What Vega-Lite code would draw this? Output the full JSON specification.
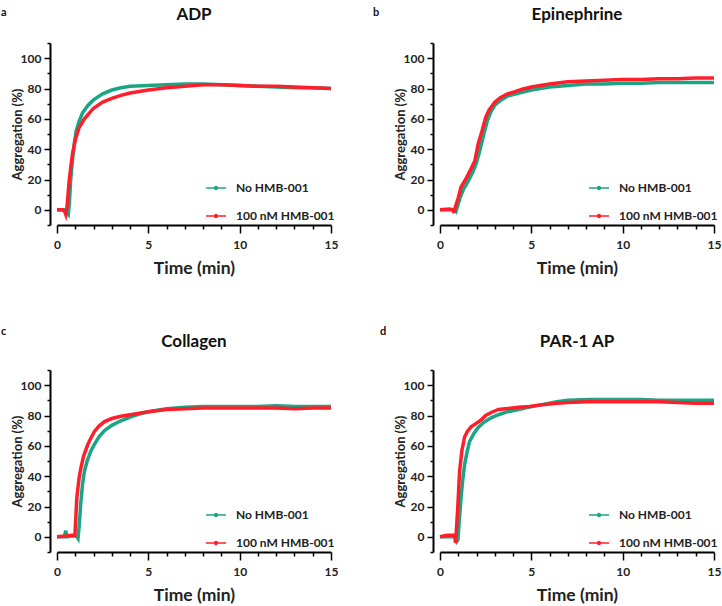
{
"$schema": "https://vega.github.io/schema/vega-lite/v6.json",
"padding": {"left": 1, "top": 6, "right": 0, "bottom": 0},
"background": "white",
"config": {
 "view": {"stroke": null},
 "font": "Lato",
 "axis": {"domainColor": "#000", "domainWidth": 2, "tickColor": "#000", "tickWidth": 1.5, "labelFont": "Lato", "labelFontSize": 12, "labelFontWeight": "bold", "labelColor": "#222", "titleFont": "Lato", "titleFontWeight": "bold", "titleColor": "#222", "grid": false, "labelOverlap": false, "labelFlush": false},
 "axisX": {"titleFontSize": 17.5},
 "axisY": {"titleFontSize": 13},
 "legend": {"labelFont": "Lato", "labelFontSize": 12, "labelFontWeight": "bold", "labelColor": "#222"},
 "header": {"labelFont": "Lato", "labelFontSize": 17, "labelFontWeight": "bold", "labelColor": "#111"},
 "title": {"font": "Lato", "fontSize": 11, "fontWeight": "bold", "anchor": "start", "frame": "bounds", "color": "#111", "offset": -4, "dx": -10, "dy": 8}
},
"data": {"values": [
{"agonist":"ADP","s":"No HMB-001","t":0,"v":0},{"agonist":"ADP","s":"No HMB-001","t":0.3,"v":0},{"agonist":"ADP","s":"No HMB-001","t":0.5,"v":0},{"agonist":"ADP","s":"No HMB-001","t":0.55,"v":-2},{"agonist":"ADP","s":"No HMB-001","t":0.62,"v":-3},{"agonist":"ADP","s":"No HMB-001","t":0.68,"v":5},{"agonist":"ADP","s":"No HMB-001","t":0.75,"v":20},{"agonist":"ADP","s":"No HMB-001","t":0.85,"v":33},{"agonist":"ADP","s":"No HMB-001","t":0.95,"v":44},{"agonist":"ADP","s":"No HMB-001","t":1.05,"v":52},{"agonist":"ADP","s":"No HMB-001","t":1.2,"v":58},{"agonist":"ADP","s":"No HMB-001","t":1.4,"v":64},{"agonist":"ADP","s":"No HMB-001","t":1.7,"v":69},{"agonist":"ADP","s":"No HMB-001","t":2.0,"v":72.5},{"agonist":"ADP","s":"No HMB-001","t":2.5,"v":76.5},{"agonist":"ADP","s":"No HMB-001","t":3.0,"v":79},{"agonist":"ADP","s":"No HMB-001","t":3.5,"v":80.5},{"agonist":"ADP","s":"No HMB-001","t":4.0,"v":81.5},{"agonist":"ADP","s":"No HMB-001","t":5,"v":82},{"agonist":"ADP","s":"No HMB-001","t":6,"v":82.5},{"agonist":"ADP","s":"No HMB-001","t":7,"v":83},{"agonist":"ADP","s":"No HMB-001","t":8,"v":83},{"agonist":"ADP","s":"No HMB-001","t":9,"v":82.5},{"agonist":"ADP","s":"No HMB-001","t":10,"v":82},{"agonist":"ADP","s":"No HMB-001","t":11,"v":81.5},{"agonist":"ADP","s":"No HMB-001","t":12,"v":81},{"agonist":"ADP","s":"No HMB-001","t":13,"v":80.5},{"agonist":"ADP","s":"No HMB-001","t":14,"v":80.5},{"agonist":"ADP","s":"No HMB-001","t":15,"v":80},
{"agonist":"ADP","s":"100 nM HMB-001","t":0,"v":0},{"agonist":"ADP","s":"100 nM HMB-001","t":0.3,"v":0},{"agonist":"ADP","s":"100 nM HMB-001","t":0.42,"v":-1},{"agonist":"ADP","s":"100 nM HMB-001","t":0.48,"v":-3},{"agonist":"ADP","s":"100 nM HMB-001","t":0.55,"v":2},{"agonist":"ADP","s":"100 nM HMB-001","t":0.65,"v":17},{"agonist":"ADP","s":"100 nM HMB-001","t":0.75,"v":28},{"agonist":"ADP","s":"100 nM HMB-001","t":0.85,"v":37},{"agonist":"ADP","s":"100 nM HMB-001","t":1.0,"v":46},{"agonist":"ADP","s":"100 nM HMB-001","t":1.2,"v":54},{"agonist":"ADP","s":"100 nM HMB-001","t":1.5,"v":60},{"agonist":"ADP","s":"100 nM HMB-001","t":2.0,"v":67},{"agonist":"ADP","s":"100 nM HMB-001","t":2.5,"v":71},{"agonist":"ADP","s":"100 nM HMB-001","t":3.0,"v":73.5},{"agonist":"ADP","s":"100 nM HMB-001","t":3.5,"v":75.5},{"agonist":"ADP","s":"100 nM HMB-001","t":4.0,"v":77},{"agonist":"ADP","s":"100 nM HMB-001","t":5,"v":79},{"agonist":"ADP","s":"100 nM HMB-001","t":6,"v":80.5},{"agonist":"ADP","s":"100 nM HMB-001","t":7,"v":81.5},{"agonist":"ADP","s":"100 nM HMB-001","t":8,"v":82.5},{"agonist":"ADP","s":"100 nM HMB-001","t":9,"v":82.5},{"agonist":"ADP","s":"100 nM HMB-001","t":10,"v":82},{"agonist":"ADP","s":"100 nM HMB-001","t":11,"v":81.5},{"agonist":"ADP","s":"100 nM HMB-001","t":12,"v":81.5},{"agonist":"ADP","s":"100 nM HMB-001","t":13,"v":81},{"agonist":"ADP","s":"100 nM HMB-001","t":14,"v":80.5},{"agonist":"ADP","s":"100 nM HMB-001","t":15,"v":80},
{"agonist":"Epinephrine","s":"No HMB-001","t":0,"v":0},{"agonist":"Epinephrine","s":"No HMB-001","t":0.5,"v":0},{"agonist":"Epinephrine","s":"No HMB-001","t":0.8,"v":0},{"agonist":"Epinephrine","s":"No HMB-001","t":0.88,"v":-1},{"agonist":"Epinephrine","s":"No HMB-001","t":0.95,"v":2},{"agonist":"Epinephrine","s":"No HMB-001","t":1.1,"v":8},{"agonist":"Epinephrine","s":"No HMB-001","t":1.3,"v":14},{"agonist":"Epinephrine","s":"No HMB-001","t":1.5,"v":18},{"agonist":"Epinephrine","s":"No HMB-001","t":1.8,"v":25},{"agonist":"Epinephrine","s":"No HMB-001","t":2.0,"v":31},{"agonist":"Epinephrine","s":"No HMB-001","t":2.2,"v":40},{"agonist":"Epinephrine","s":"No HMB-001","t":2.4,"v":50},{"agonist":"Epinephrine","s":"No HMB-001","t":2.6,"v":59},{"agonist":"Epinephrine","s":"No HMB-001","t":2.8,"v":65},{"agonist":"Epinephrine","s":"No HMB-001","t":3.0,"v":69},{"agonist":"Epinephrine","s":"No HMB-001","t":3.3,"v":72},{"agonist":"Epinephrine","s":"No HMB-001","t":3.7,"v":75},{"agonist":"Epinephrine","s":"No HMB-001","t":4.0,"v":76},{"agonist":"Epinephrine","s":"No HMB-001","t":4.5,"v":77.5},{"agonist":"Epinephrine","s":"No HMB-001","t":5,"v":79},{"agonist":"Epinephrine","s":"No HMB-001","t":6,"v":81},{"agonist":"Epinephrine","s":"No HMB-001","t":7,"v":82},{"agonist":"Epinephrine","s":"No HMB-001","t":8,"v":83},{"agonist":"Epinephrine","s":"No HMB-001","t":9,"v":83},{"agonist":"Epinephrine","s":"No HMB-001","t":10,"v":83.5},{"agonist":"Epinephrine","s":"No HMB-001","t":11,"v":83.5},{"agonist":"Epinephrine","s":"No HMB-001","t":12,"v":84},{"agonist":"Epinephrine","s":"No HMB-001","t":13,"v":84},{"agonist":"Epinephrine","s":"No HMB-001","t":14,"v":84},{"agonist":"Epinephrine","s":"No HMB-001","t":15,"v":84},
{"agonist":"Epinephrine","s":"100 nM HMB-001","t":0,"v":0},{"agonist":"Epinephrine","s":"100 nM HMB-001","t":0.5,"v":0.5},{"agonist":"Epinephrine","s":"100 nM HMB-001","t":0.72,"v":0},{"agonist":"Epinephrine","s":"100 nM HMB-001","t":0.76,"v":-2},{"agonist":"Epinephrine","s":"100 nM HMB-001","t":0.82,"v":1},{"agonist":"Epinephrine","s":"100 nM HMB-001","t":1.0,"v":8},{"agonist":"Epinephrine","s":"100 nM HMB-001","t":1.15,"v":15},{"agonist":"Epinephrine","s":"100 nM HMB-001","t":1.4,"v":20},{"agonist":"Epinephrine","s":"100 nM HMB-001","t":1.7,"v":27},{"agonist":"Epinephrine","s":"100 nM HMB-001","t":1.9,"v":32},{"agonist":"Epinephrine","s":"100 nM HMB-001","t":2.1,"v":44},{"agonist":"Epinephrine","s":"100 nM HMB-001","t":2.3,"v":52},{"agonist":"Epinephrine","s":"100 nM HMB-001","t":2.5,"v":61},{"agonist":"Epinephrine","s":"100 nM HMB-001","t":2.7,"v":66},{"agonist":"Epinephrine","s":"100 nM HMB-001","t":3.0,"v":71},{"agonist":"Epinephrine","s":"100 nM HMB-001","t":3.3,"v":74},{"agonist":"Epinephrine","s":"100 nM HMB-001","t":3.7,"v":76.5},{"agonist":"Epinephrine","s":"100 nM HMB-001","t":4.0,"v":77.5},{"agonist":"Epinephrine","s":"100 nM HMB-001","t":4.5,"v":79.5},{"agonist":"Epinephrine","s":"100 nM HMB-001","t":5,"v":81},{"agonist":"Epinephrine","s":"100 nM HMB-001","t":6,"v":83},{"agonist":"Epinephrine","s":"100 nM HMB-001","t":7,"v":84.5},{"agonist":"Epinephrine","s":"100 nM HMB-001","t":8,"v":85},{"agonist":"Epinephrine","s":"100 nM HMB-001","t":9,"v":85.5},{"agonist":"Epinephrine","s":"100 nM HMB-001","t":10,"v":86},{"agonist":"Epinephrine","s":"100 nM HMB-001","t":11,"v":86},{"agonist":"Epinephrine","s":"100 nM HMB-001","t":12,"v":86.5},{"agonist":"Epinephrine","s":"100 nM HMB-001","t":13,"v":86.5},{"agonist":"Epinephrine","s":"100 nM HMB-001","t":14,"v":87},{"agonist":"Epinephrine","s":"100 nM HMB-001","t":15,"v":87},
{"agonist":"Collagen","s":"No HMB-001","t":0,"v":0},{"agonist":"Collagen","s":"No HMB-001","t":0.4,"v":0},{"agonist":"Collagen","s":"No HMB-001","t":0.48,"v":4},{"agonist":"Collagen","s":"No HMB-001","t":0.55,"v":0},{"agonist":"Collagen","s":"No HMB-001","t":0.8,"v":0.5},{"agonist":"Collagen","s":"No HMB-001","t":1.0,"v":0.5},{"agonist":"Collagen","s":"No HMB-001","t":1.1,"v":0},{"agonist":"Collagen","s":"No HMB-001","t":1.15,"v":-1},{"agonist":"Collagen","s":"No HMB-001","t":1.22,"v":8},{"agonist":"Collagen","s":"No HMB-001","t":1.3,"v":22},{"agonist":"Collagen","s":"No HMB-001","t":1.4,"v":35},{"agonist":"Collagen","s":"No HMB-001","t":1.5,"v":43},{"agonist":"Collagen","s":"No HMB-001","t":1.65,"v":50},{"agonist":"Collagen","s":"No HMB-001","t":1.85,"v":56.5},{"agonist":"Collagen","s":"No HMB-001","t":2.05,"v":61},{"agonist":"Collagen","s":"No HMB-001","t":2.3,"v":66},{"agonist":"Collagen","s":"No HMB-001","t":2.6,"v":70},{"agonist":"Collagen","s":"No HMB-001","t":3.0,"v":73.5},{"agonist":"Collagen","s":"No HMB-001","t":3.5,"v":76.5},{"agonist":"Collagen","s":"No HMB-001","t":4.0,"v":79},{"agonist":"Collagen","s":"No HMB-001","t":4.5,"v":81},{"agonist":"Collagen","s":"No HMB-001","t":5,"v":82.5},{"agonist":"Collagen","s":"No HMB-001","t":6,"v":84.5},{"agonist":"Collagen","s":"No HMB-001","t":7,"v":85.5},{"agonist":"Collagen","s":"No HMB-001","t":8,"v":86},{"agonist":"Collagen","s":"No HMB-001","t":9,"v":86},{"agonist":"Collagen","s":"No HMB-001","t":10,"v":86},{"agonist":"Collagen","s":"No HMB-001","t":11,"v":86},{"agonist":"Collagen","s":"No HMB-001","t":12,"v":86.5},{"agonist":"Collagen","s":"No HMB-001","t":13,"v":86},{"agonist":"Collagen","s":"No HMB-001","t":14,"v":86},{"agonist":"Collagen","s":"No HMB-001","t":15,"v":86},
{"agonist":"Collagen","s":"100 nM HMB-001","t":0,"v":0},{"agonist":"Collagen","s":"100 nM HMB-001","t":0.5,"v":0.5},{"agonist":"Collagen","s":"100 nM HMB-001","t":0.8,"v":1},{"agonist":"Collagen","s":"100 nM HMB-001","t":0.98,"v":1},{"agonist":"Collagen","s":"100 nM HMB-001","t":1.02,"v":10},{"agonist":"Collagen","s":"100 nM HMB-001","t":1.08,"v":25},{"agonist":"Collagen","s":"100 nM HMB-001","t":1.2,"v":38},{"agonist":"Collagen","s":"100 nM HMB-001","t":1.3,"v":45},{"agonist":"Collagen","s":"100 nM HMB-001","t":1.45,"v":53},{"agonist":"Collagen","s":"100 nM HMB-001","t":1.67,"v":60.5},{"agonist":"Collagen","s":"100 nM HMB-001","t":1.85,"v":65},{"agonist":"Collagen","s":"100 nM HMB-001","t":2.05,"v":69.5},{"agonist":"Collagen","s":"100 nM HMB-001","t":2.3,"v":73},{"agonist":"Collagen","s":"100 nM HMB-001","t":2.6,"v":76},{"agonist":"Collagen","s":"100 nM HMB-001","t":3.0,"v":78},{"agonist":"Collagen","s":"100 nM HMB-001","t":3.5,"v":79.5},{"agonist":"Collagen","s":"100 nM HMB-001","t":4.0,"v":80.5},{"agonist":"Collagen","s":"100 nM HMB-001","t":5,"v":82.5},{"agonist":"Collagen","s":"100 nM HMB-001","t":6,"v":84},{"agonist":"Collagen","s":"100 nM HMB-001","t":7,"v":84.5},{"agonist":"Collagen","s":"100 nM HMB-001","t":8,"v":85},{"agonist":"Collagen","s":"100 nM HMB-001","t":9,"v":85},{"agonist":"Collagen","s":"100 nM HMB-001","t":10,"v":85},{"agonist":"Collagen","s":"100 nM HMB-001","t":11,"v":85},{"agonist":"Collagen","s":"100 nM HMB-001","t":12,"v":85},{"agonist":"Collagen","s":"100 nM HMB-001","t":13,"v":84.5},{"agonist":"Collagen","s":"100 nM HMB-001","t":14,"v":85},{"agonist":"Collagen","s":"100 nM HMB-001","t":15,"v":85},
{"agonist":"PAR-1 AP","s":"No HMB-001","t":0,"v":0},{"agonist":"PAR-1 AP","s":"No HMB-001","t":0.5,"v":0},{"agonist":"PAR-1 AP","s":"No HMB-001","t":0.85,"v":0},{"agonist":"PAR-1 AP","s":"No HMB-001","t":0.92,"v":-3},{"agonist":"PAR-1 AP","s":"No HMB-001","t":0.98,"v":-2},{"agonist":"PAR-1 AP","s":"No HMB-001","t":1.05,"v":10},{"agonist":"PAR-1 AP","s":"No HMB-001","t":1.16,"v":27},{"agonist":"PAR-1 AP","s":"No HMB-001","t":1.25,"v":38},{"agonist":"PAR-1 AP","s":"No HMB-001","t":1.35,"v":48},{"agonist":"PAR-1 AP","s":"No HMB-001","t":1.5,"v":57},{"agonist":"PAR-1 AP","s":"No HMB-001","t":1.62,"v":63},{"agonist":"PAR-1 AP","s":"No HMB-001","t":1.85,"v":68},{"agonist":"PAR-1 AP","s":"No HMB-001","t":2.08,"v":72},{"agonist":"PAR-1 AP","s":"No HMB-001","t":2.4,"v":75.5},{"agonist":"PAR-1 AP","s":"No HMB-001","t":2.8,"v":78.5},{"agonist":"PAR-1 AP","s":"No HMB-001","t":3.2,"v":80.5},{"agonist":"PAR-1 AP","s":"No HMB-001","t":3.7,"v":82.5},{"agonist":"PAR-1 AP","s":"No HMB-001","t":4.3,"v":84},{"agonist":"PAR-1 AP","s":"No HMB-001","t":4.9,"v":85.5},{"agonist":"PAR-1 AP","s":"No HMB-001","t":5.5,"v":87},{"agonist":"PAR-1 AP","s":"No HMB-001","t":6.4,"v":89},{"agonist":"PAR-1 AP","s":"No HMB-001","t":7,"v":90},{"agonist":"PAR-1 AP","s":"No HMB-001","t":8.2,"v":90.5},{"agonist":"PAR-1 AP","s":"No HMB-001","t":9,"v":90.5},{"agonist":"PAR-1 AP","s":"No HMB-001","t":10,"v":90.5},{"agonist":"PAR-1 AP","s":"No HMB-001","t":11,"v":90.5},{"agonist":"PAR-1 AP","s":"No HMB-001","t":12,"v":90},{"agonist":"PAR-1 AP","s":"No HMB-001","t":13,"v":90},{"agonist":"PAR-1 AP","s":"No HMB-001","t":14,"v":90},{"agonist":"PAR-1 AP","s":"No HMB-001","t":15,"v":90},
{"agonist":"PAR-1 AP","s":"100 nM HMB-001","t":0,"v":0},{"agonist":"PAR-1 AP","s":"100 nM HMB-001","t":0.4,"v":1},{"agonist":"PAR-1 AP","s":"100 nM HMB-001","t":0.8,"v":1},{"agonist":"PAR-1 AP","s":"100 nM HMB-001","t":0.85,"v":-4},{"agonist":"PAR-1 AP","s":"100 nM HMB-001","t":0.9,"v":5},{"agonist":"PAR-1 AP","s":"100 nM HMB-001","t":0.98,"v":21},{"agonist":"PAR-1 AP","s":"100 nM HMB-001","t":1.07,"v":43},{"agonist":"PAR-1 AP","s":"100 nM HMB-001","t":1.2,"v":57},{"agonist":"PAR-1 AP","s":"100 nM HMB-001","t":1.35,"v":66},{"agonist":"PAR-1 AP","s":"100 nM HMB-001","t":1.5,"v":69.5},{"agonist":"PAR-1 AP","s":"100 nM HMB-001","t":1.7,"v":72.5},{"agonist":"PAR-1 AP","s":"100 nM HMB-001","t":2.0,"v":75},{"agonist":"PAR-1 AP","s":"100 nM HMB-001","t":2.25,"v":77},{"agonist":"PAR-1 AP","s":"100 nM HMB-001","t":2.5,"v":80},{"agonist":"PAR-1 AP","s":"100 nM HMB-001","t":2.8,"v":82},{"agonist":"PAR-1 AP","s":"100 nM HMB-001","t":3.2,"v":84},{"agonist":"PAR-1 AP","s":"100 nM HMB-001","t":3.7,"v":84.6},{"agonist":"PAR-1 AP","s":"100 nM HMB-001","t":4.3,"v":85.5},{"agonist":"PAR-1 AP","s":"100 nM HMB-001","t":4.9,"v":86},{"agonist":"PAR-1 AP","s":"100 nM HMB-001","t":5.5,"v":87},{"agonist":"PAR-1 AP","s":"100 nM HMB-001","t":6.4,"v":88},{"agonist":"PAR-1 AP","s":"100 nM HMB-001","t":7,"v":88.5},{"agonist":"PAR-1 AP","s":"100 nM HMB-001","t":8,"v":89},{"agonist":"PAR-1 AP","s":"100 nM HMB-001","t":9,"v":89},{"agonist":"PAR-1 AP","s":"100 nM HMB-001","t":10,"v":89},{"agonist":"PAR-1 AP","s":"100 nM HMB-001","t":11,"v":89},{"agonist":"PAR-1 AP","s":"100 nM HMB-001","t":12,"v":89},{"agonist":"PAR-1 AP","s":"100 nM HMB-001","t":13,"v":88.5},{"agonist":"PAR-1 AP","s":"100 nM HMB-001","t":14,"v":88},{"agonist":"PAR-1 AP","s":"100 nM HMB-001","t":15,"v":88}
]},
"columns": 2,
"spacing": {"row": 49, "column": 35},
"resolve": {"legend": {"color": "independent"}},
"concat": [
 {"title": {"text": "a"}, "transform": [{"filter": "datum.agonist === 'ADP'"}],
  "facet": {"column": {"field": "agonist", "type": "nominal", "title": null, "header": {"labelPadding": 19}}},
  "spec": {"width": 274, "height": 182, "mark": {"type": "line", "strokeWidth": 3.5},
   "encoding": {
    "x": {"field": "t", "type": "quantitative", "scale": {"domain": [0, 15], "nice": false}, "axis": {"title": "Time (min)", "values": [0,1,2,3,4,5,6,7,8,9,10,11,12,13,14,15], "labelExpr": "datum.value % 5 === 0 ? datum.label : ''", "tickSize": {"condition": {"test": "datum.value % 5 === 0", "value": 8}, "value": 4}, "labelPadding": 6, "titlePadding": 9}},
    "y": {"field": "v", "type": "quantitative", "scale": {"domain": [-10, 110], "nice": false}, "axis": {"title": "Aggregation (%)", "values": [-10,0,10,20,30,40,50,60,70,80,90,100,110], "labelExpr": "datum.value % 20 === 0 && datum.value >= 0 && datum.value <= 100 ? datum.label : ''", "tickSize": {"condition": {"test": "datum.value % 20 === 0", "value": 6}, "value": 3}, "labelPadding": 3, "titlePadding": -4}},
    "color": {"field": "s", "type": "nominal", "sort": ["No HMB-001", "100 nM HMB-001"], "scale": {"domain": ["No HMB-001", "100 nM HMB-001"], "range": ["#1aa585", "#ff1f2a"]}, "legend": {"title": null, "orient": "none", "legendX": 148, "legendY": 134, "rowPadding": 11, "symbolSize": 400, "symbolStrokeWidth": 1.5, "symbolType": "M-1,0H1M-0.15,0A0.15,0.15,0,1,0,0.15,0A0.15,0.15,0,1,0,-0.15,0", "labelOffset": 9}}
   }}},
 {"title": {"text": "b", "dx": -21}, "transform": [{"filter": "datum.agonist === 'Epinephrine'"}],
  "facet": {"column": {"field": "agonist", "type": "nominal", "title": null, "header": {"labelPadding": 19}}},
  "spec": {"width": 274, "height": 182, "mark": {"type": "line", "strokeWidth": 3.5},
   "encoding": {
    "x": {"field": "t", "type": "quantitative", "scale": {"domain": [0, 15], "nice": false}, "axis": {"title": "Time (min)", "values": [0,1,2,3,4,5,6,7,8,9,10,11,12,13,14,15], "labelExpr": "datum.value % 5 === 0 ? datum.label : ''", "tickSize": {"condition": {"test": "datum.value % 5 === 0", "value": 8}, "value": 4}, "labelPadding": 6, "titlePadding": 9}},
    "y": {"field": "v", "type": "quantitative", "scale": {"domain": [-10, 110], "nice": false}, "axis": {"title": "Aggregation (%)", "values": [-10,0,10,20,30,40,50,60,70,80,90,100,110], "labelExpr": "datum.value % 20 === 0 && datum.value >= 0 && datum.value <= 100 ? datum.label : ''", "tickSize": {"condition": {"test": "datum.value % 20 === 0", "value": 6}, "value": 3}, "labelPadding": 3, "titlePadding": -4}},
    "color": {"field": "s", "type": "nominal", "sort": ["No HMB-001", "100 nM HMB-001"], "scale": {"domain": ["No HMB-001", "100 nM HMB-001"], "range": ["#1aa585", "#ff1f2a"]}, "legend": {"title": null, "orient": "none", "legendX": 148, "legendY": 134, "rowPadding": 11, "symbolSize": 400, "symbolStrokeWidth": 1.5, "symbolType": "M-1,0H1M-0.15,0A0.15,0.15,0,1,0,0.15,0A0.15,0.15,0,1,0,-0.15,0", "labelOffset": 9}}
   }}},
 {"title": {"text": "c", "dy": 0}, "transform": [{"filter": "datum.agonist === 'Collagen'"}],
  "facet": {"column": {"field": "agonist", "type": "nominal", "title": null, "header": {"labelPadding": 19}}},
  "spec": {"width": 274, "height": 182, "mark": {"type": "line", "strokeWidth": 3.5},
   "encoding": {
    "x": {"field": "t", "type": "quantitative", "scale": {"domain": [0, 15], "nice": false}, "axis": {"title": "Time (min)", "values": [0,1,2,3,4,5,6,7,8,9,10,11,12,13,14,15], "labelExpr": "datum.value % 5 === 0 ? datum.label : ''", "tickSize": {"condition": {"test": "datum.value % 5 === 0", "value": 8}, "value": 4}, "labelPadding": 6, "titlePadding": 9}},
    "y": {"field": "v", "type": "quantitative", "scale": {"domain": [-10, 110], "nice": false}, "axis": {"title": "Aggregation (%)", "values": [-10,0,10,20,30,40,50,60,70,80,90,100,110], "labelExpr": "datum.value % 20 === 0 && datum.value >= 0 && datum.value <= 100 ? datum.label : ''", "tickSize": {"condition": {"test": "datum.value % 20 === 0", "value": 6}, "value": 3}, "labelPadding": 3, "titlePadding": -4}},
    "color": {"field": "s", "type": "nominal", "sort": ["No HMB-001", "100 nM HMB-001"], "scale": {"domain": ["No HMB-001", "100 nM HMB-001"], "range": ["#1aa585", "#ff1f2a"]}, "legend": {"title": null, "orient": "none", "legendX": 148, "legendY": 134, "rowPadding": 11, "symbolSize": 400, "symbolStrokeWidth": 1.5, "symbolType": "M-1,0H1M-0.15,0A0.15,0.15,0,1,0,0.15,0A0.15,0.15,0,1,0,-0.15,0", "labelOffset": 9}}
   }}},
 {"title": {"text": "d", "dx": -14, "dy": 0}, "transform": [{"filter": "datum.agonist === 'PAR-1 AP'"}],
  "facet": {"column": {"field": "agonist", "type": "nominal", "title": null, "header": {"labelPadding": 19}}},
  "spec": {"width": 274, "height": 182, "mark": {"type": "line", "strokeWidth": 3.5},
   "encoding": {
    "x": {"field": "t", "type": "quantitative", "scale": {"domain": [0, 15], "nice": false}, "axis": {"title": "Time (min)", "values": [0,1,2,3,4,5,6,7,8,9,10,11,12,13,14,15], "labelExpr": "datum.value % 5 === 0 ? datum.label : ''", "tickSize": {"condition": {"test": "datum.value % 5 === 0", "value": 8}, "value": 4}, "labelPadding": 6, "titlePadding": 9}},
    "y": {"field": "v", "type": "quantitative", "scale": {"domain": [-10, 110], "nice": false}, "axis": {"title": "Aggregation (%)", "values": [-10,0,10,20,30,40,50,60,70,80,90,100,110], "labelExpr": "datum.value % 20 === 0 && datum.value >= 0 && datum.value <= 100 ? datum.label : ''", "tickSize": {"condition": {"test": "datum.value % 20 === 0", "value": 6}, "value": 3}, "labelPadding": 3, "titlePadding": -4}},
    "color": {"field": "s", "type": "nominal", "sort": ["No HMB-001", "100 nM HMB-001"], "scale": {"domain": ["No HMB-001", "100 nM HMB-001"], "range": ["#1aa585", "#ff1f2a"]}, "legend": {"title": null, "orient": "none", "legendX": 148, "legendY": 134, "rowPadding": 11, "symbolSize": 400, "symbolStrokeWidth": 1.5, "symbolType": "M-1,0H1M-0.15,0A0.15,0.15,0,1,0,0.15,0A0.15,0.15,0,1,0,-0.15,0", "labelOffset": 9}}
   }}}
]
}
